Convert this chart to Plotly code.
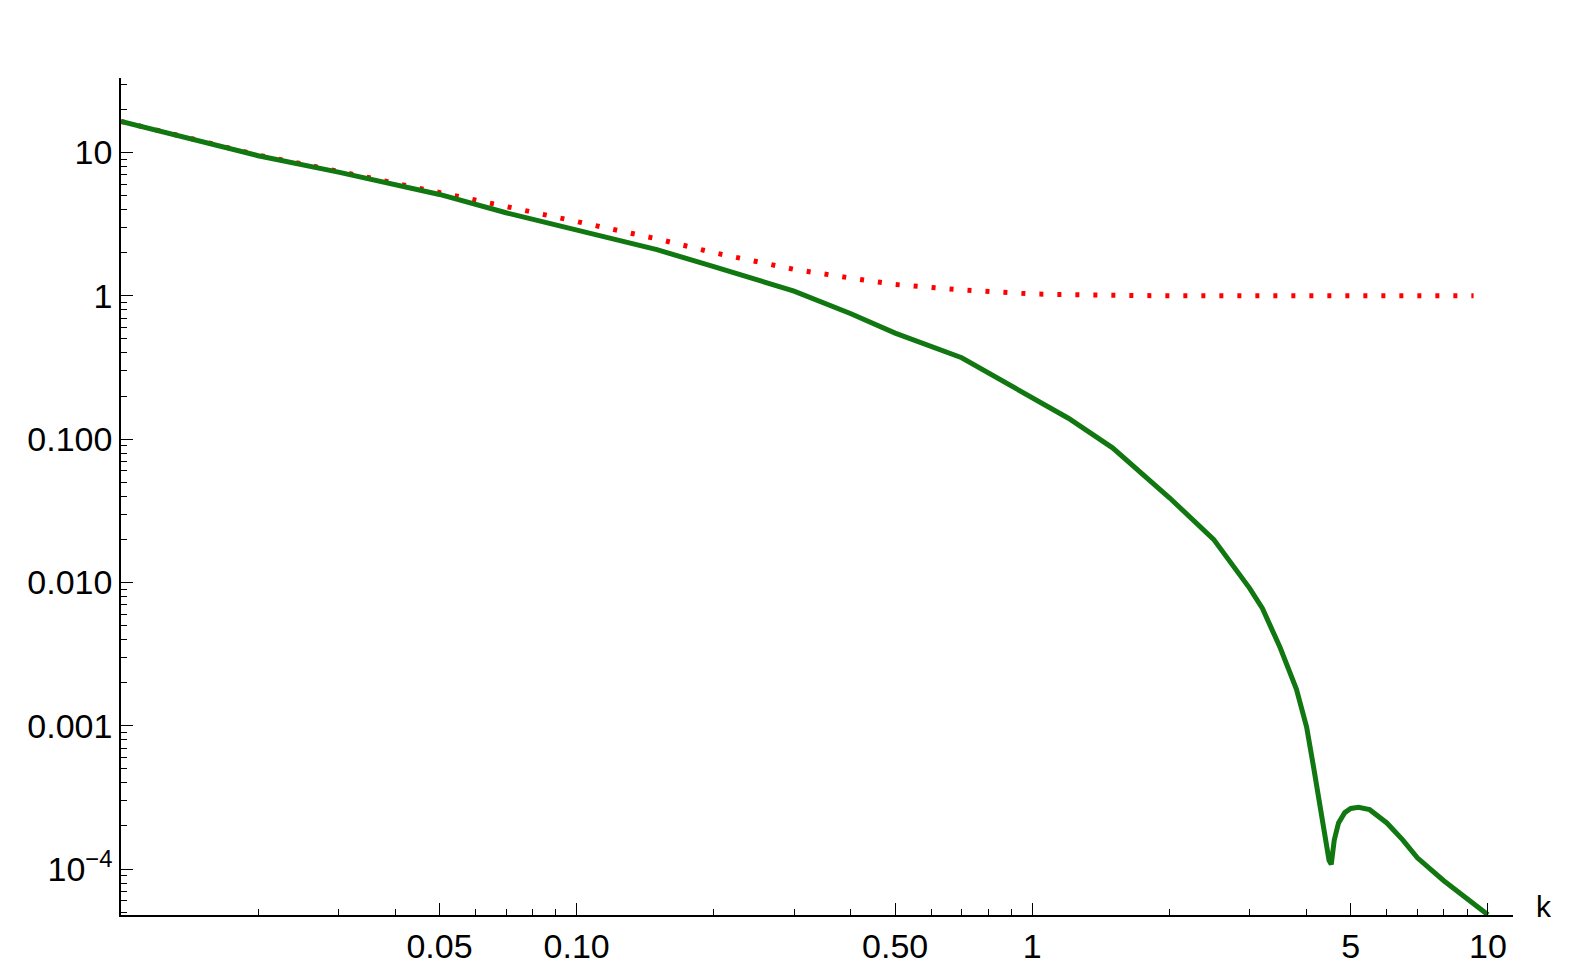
import plotly.graph_objects as go

k_green = [0.01, 0.02, 0.03, 0.05, 0.07, 0.1, 0.15, 0.2, 0.3, 0.4, 0.5, 0.7, 1, 1.2, 1.5, 1.75, 2, 2.5, 3, 3.2, 3.5, 3.8, 4, 4.15, 4.3, 4.4, 4.48, 4.53, 4.6, 4.7, 4.85, 5.0, 5.2, 5.5, 6, 6.5, 7, 8, 9, 10]
y_green = [16.5, 9.5, 7.3, 5.1, 3.8, 2.9, 2.1, 1.6, 1.08, 0.75, 0.55, 0.37, 0.195, 0.14, 0.087, 0.057, 0.039, 0.020, 0.0091, 0.0066, 0.0035, 0.0018, 0.00098, 0.0005, 0.00026, 0.000165, 0.000115, 0.000108, 0.00016, 0.00021, 0.000248, 0.000265, 0.00027, 0.00026, 0.00021, 0.00016, 0.00012, 0.000083, 0.000062, 0.000048]
k_red = [0.01, 0.02, 0.03, 0.05, 0.07, 0.1, 0.15, 0.2, 0.3, 0.4, 0.5, 0.7, 1, 1.5, 2, 5, 9.3]
y_red = [16.5, 9.6, 7.4, 5.3, 4.2, 3.3, 2.5, 2.0, 1.53, 1.33, 1.2, 1.1, 1.03, 1.01, 1.0, 1.0, 1.0]

x_tickvals = [0.05, 0.1, 0.5, 1, 5, 10]
x_ticktext = ["0.05", "0.10", "0.50", "1", "5", "10"]
y_tickvals = [10, 1, 0.1, 0.01, 0.001, 0.0001]
y_ticktext = ["10", "1", "0.100", "0.010", "0.001", "10<sup>−4</sup>"]

x_minor = [m * 10 ** e for e in (-2, -1, 0, 1) for m in range(1, 10) if m * 10 ** e <= 11]
y_minor = [m * 10 ** e for e in (-5, -4, -3, -2, -1, 0, 1) for m in range(1, 10)]

fig = go.Figure()
fig.add_trace(go.Scatter(x=k_red, y=y_red, mode="lines", line=dict(color="red", width=5, dash="4px,14px")))
fig.add_trace(go.Scatter(x=k_green, y=y_green, mode="lines", line=dict(color="#117711", width=5)))

ax = dict(showgrid=False, zeroline=False, showline=True, linecolor="black", linewidth=1.5,
          ticks="inside", tickcolor="black", ticklen=12,
          tickfont=dict(family="Liberation Sans, Arial", size=34, color="black"))
fig.update_xaxes(type="log", range=[-2.0, 1.055], tickvals=x_tickvals, ticktext=x_ticktext,
                 minor=dict(ticks="inside", ticklen=6, tickcolor="black", tickvals=x_minor), **ax)
fig.update_yaxes(type="log", range=[-4.32, 1.52], tickvals=y_tickvals, ticktext=y_ticktext,
                 minor=dict(ticks="inside", ticklen=6, tickcolor="black", tickvals=y_minor), **ax)
fig.add_annotation(text="k", xref="paper", yref="paper", x=1.015, y=0.01, xanchor="left", yanchor="middle",
                   showarrow=False, font=dict(family="Liberation Sans, Arial", size=30, color="black"))
fig.update_layout(width=1578, height=971, margin=dict(l=113, r=73, t=70, b=64),
                  plot_bgcolor="white", paper_bgcolor="white", showlegend=False)
fig.write_html("out.html")
